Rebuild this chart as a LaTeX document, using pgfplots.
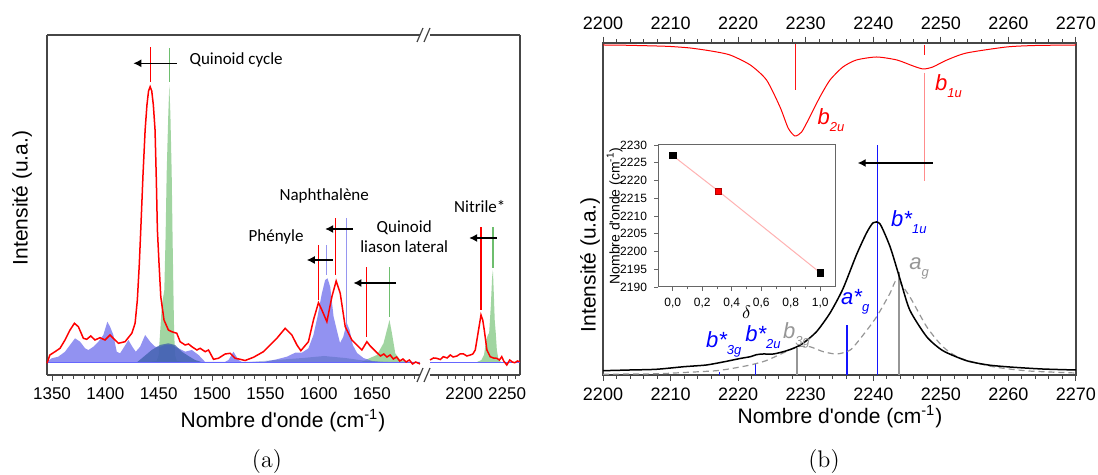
\documentclass[border=0pt]{standalone}
\usepackage{fontspec}
\usepackage{pgfplots}
\pgfplotsset{compat=1.18}
\usetikzlibrary{arrows.meta}
\newfontfamily\arial{Liberation Sans}
\newfontfamily\calibri{Carlito}
\definecolor{fgreen}{RGB}{110,190,110}
\definecolor{lblue}{RGB}{100,100,235}
\definecolor{dblue}{RGB}{60,95,170}
\definecolor{lav}{RGB}{150,150,240}
\definecolor{framec}{RGB}{70,70,70}
\definecolor{gline}{RGB}{150,150,150}
\definecolor{pblue}{RGB}{20,20,255}
\definecolor{pred}{RGB}{255,20,20}
\pgfplotsset{
  base/.style={scale only axis, axis line style={draw=framec, line width=0.6pt},
    tick style={draw=framec, line width=0.5pt}, tick align=outside,
    major tick length=3pt, minor tick length=1.8pt,
    /pgf/number format/assume math mode=true, /pgf/number format/1000 sep={},
    tick label style={font=\arial\fontsize{8.5}{10}\selectfont},
    ytick=\empty},
}
\tikzset{
  ann/.style={font=\calibri\fontsize{8.5}{10}\selectfont, align=center, inner sep=0pt},
  arr/.style={black, line width=0.6pt, -{Latex[length=4pt,width=4pt]}},
  lab/.style={anchor=base west, inner sep=0pt, font=\arial\itshape\fontsize{11}{12}\selectfont},
}
\newcommand{\sub}[1]{\raisebox{-0.6ex}{\fontsize{6.5}{8}\selectfont #1}}
\begin{document}
\begin{tikzpicture}
\path[use as bounding box] (0,0) rectangle (549pt,237.5pt);
% ---------------- panel (a), left part
\begin{axis}[base, at={(23.5pt,50pt)}, anchor=south west, width=186.5pt, height=170pt,
  xmin=1345.3, xmax=1695, ymin=0, ymax=340, axis y line*=left, clip=false,
  xtick={1350,1400,...,1650}, minor xtick={1350,1360,...,1690}, xtick pos=left]
\addplot[draw=none, fill=fgreen, fill opacity=0.65] coordinates {(1440,13) (1448,14) (1450,20) (1451.3,42) (1453,70) (1455.3,85) (1456.5,140) (1457.5,202) (1459,260) (1460,290) (1461,260) (1462.2,202) (1463,140) (1463.8,85) (1464.5,42) (1465.4,20) (1467,14) (1475,13)};
\addplot[draw=none, fill=fgreen, fill opacity=0.65] coordinates {(1640,13) (1646,16) (1654.6,20) (1660.8,31.7) (1664,45) (1666.4,55) (1668.7,41.7) (1671.8,21.7) (1676.5,15) (1685,13)};
\addplot[draw=none, fill=lblue, fill opacity=0.7] coordinates {(1345.3,13) (1349.7,16.7) (1355.9,18.3) (1362.2,23.3) (1366.9,30) (1371.6,36.7) (1376.3,33.3) (1381,26.7) (1384.1,25) (1388.8,28.3) (1393.5,33.3) (1398.1,40) (1401.9,53.3) (1404.4,48.3) (1407.5,40) (1410.7,23.3) (1413.8,21.7) (1417.8,28.3) (1421.6,35) (1425.3,28.3) (1428.5,23.3) (1432.6,28.3) (1437.3,40) (1442,33.3) (1446.6,28.3) (1451,28) (1456,30) (1462,30) (1468.5,26.7) (1474.8,23.3) (1481.1,25) (1487.4,20) (1493.6,13) (1512,13) (1515.5,15) (1520.1,23.3) (1524.8,15) (1528,13) (1548.2,13) (1560.8,15.7) (1570.2,18.3) (1578,22.3) (1584.3,22.3) (1590.4,26.7) (1595.1,40) (1598.9,58.3) (1603,81.7) (1606.1,95) (1608.3,96.7) (1610.8,88.3) (1614,58.3) (1617,45) (1620,32) (1623,38) (1626.4,52) (1629,45) (1632,30) (1636,22) (1642,17) (1650,14) (1660,13) (1695,13)};
\addplot[draw=none, fill=dblue, fill opacity=0.75] coordinates {(1430,13) (1434.2,16.7) (1443.5,25) (1451.3,30) (1459.1,31.7) (1465.4,30) (1471.7,23.3) (1477.9,19) (1484.2,15) (1490,13)};
\addplot[draw=none, fill=dblue, fill opacity=0.35] coordinates {(1535,13) (1560,15) (1585,17) (1605,19) (1625,17) (1645,14) (1665,13)};
\addplot[blue!60, line width=0.5pt] coordinates {(1345.3,12.5) (1695,12.5)};
\addplot[red, line width=0.75pt] coordinates {(1345.3,11.7) (1348,20) (1352.8,23.3) (1357.5,26.7) (1362.2,35) (1366.9,45) (1371,51.7) (1374.7,48.3) (1379.4,36.7) (1382.5,35.7) (1386.3,39) (1390.3,35) (1395,37.3) (1399.7,35) (1404.4,40) (1407.5,36.7) (1412.2,31.7) (1418.5,33.3) (1424.8,41.7) (1427.9,51.7) (1430,75) (1431.8,110) (1433.2,145) (1435.3,200) (1437.3,245) (1439,270) (1440.5,284) (1442,288.3) (1443.5,284) (1445,270) (1446.6,245) (1447.8,195) (1448.8,145) (1450.4,110) (1452,78) (1455,55) (1459.1,45) (1462.3,43.3) (1467,41.7) (1470.1,33.3) (1474.8,30) (1478,31) (1481.1,28.3) (1485.8,25) (1488.9,26.7) (1493.6,23.3) (1496.7,25) (1501.4,15.7) (1506,16.7) (1512.3,21) (1517,21.7) (1521.7,16.7) (1526.4,15.7) (1531,14.5) (1538.9,17.7) (1548.2,23.3) (1554.5,30) (1560.8,36.7) (1568.6,46.7) (1574.9,40) (1579.6,30) (1583.3,24.3) (1590.4,33.3) (1595.1,55) (1599.8,72.3) (1603,65) (1607.7,53.3) (1612.4,78.3) (1616.4,94) (1620.2,81.7) (1624.9,48.3) (1631.1,35) (1635.8,30) (1640.5,25) (1645.2,33.3) (1648.3,29) (1654.6,22.3) (1658,19) (1661,21) (1664,18) (1667,20) (1670,16) (1673,18) (1676,14) (1679,16) (1682,13) (1685,15) (1688,11) (1691,13) (1695,11)};
% markers
\addplot[red, line width=0.6pt] coordinates {(1442,293) (1442,328)};
\addplot[fgreen, line width=0.6pt] coordinates {(1460,293) (1460,327)};
\addplot[red, line width=0.6pt] coordinates {(1599.8,75) (1599.8,130)};
\addplot[lav, line width=0.6pt] coordinates {(1607.7,100) (1607.7,130)};
\addplot[red, line width=0.6pt] coordinates {(1615.5,100) (1615.5,157)};
\addplot[lav, line width=0.6pt] coordinates {(1626.4,50) (1626.4,157)};
\addplot[red, line width=0.6pt] coordinates {(1645.2,38) (1645.2,108)};
\addplot[fgreen, line width=0.6pt] coordinates {(1666.4,58) (1666.4,108)};
% arrows
\addplot[arr] coordinates {(1467,311.7) (1426.3,311.7)};
\addplot[arr] coordinates {(1613.3,115) (1588.9,115)};
\addplot[arr] coordinates {(1632.1,146) (1606.1,146)};
\addplot[arr] coordinates {(1672.7,92) (1632.6,92)};
% annotations
\node[ann] at (axis cs:1522.6,315) {Quinoid cycle};
\node[ann] at (axis cs:1605.2,179) {Naphthalène};
\node[ann] at (axis cs:1560.1,138) {Phényle};
\node[ann] at (axis cs:1680.2,138) {Quinoid\\liason lateral};
\end{axis}
% ---------------- panel (a), right part
\begin{axis}[base, at={(215pt,50pt)}, anchor=south west, width=45pt, height=170pt,
  xmin=2160, xmax=2265, ymin=0, ymax=340, axis y line*=right, clip=false,
  xtick={2200,2250}, minor xtick={2170,2180,...,2260}, xtick pos=left]
\addplot[draw=none, fill=fgreen, fill opacity=0.65] coordinates {(2215,13) (2220,15) (2223,20) (2225.5,35) (2227.5,40) (2229,42) (2231,70) (2232.5,98) (2233.4,105) (2234.5,80) (2235.5,55) (2236.7,42) (2238,25) (2239.9,15) (2243,13)};
\addplot[blue!60, line width=0.5pt] coordinates {(2160,12.5) (2265,12.5)};
\addplot[red, line width=0.75pt] coordinates {(2160,15) (2164,17) (2167.8,16.7) (2172,15.5) (2175.6,18.3) (2180,17) (2183.7,20) (2187,18) (2191.5,19) (2195,21) (2199.2,21) (2203,19) (2207,20) (2210,21) (2212.8,25) (2216,41.7) (2219.5,60) (2221.5,55) (2223.3,45) (2226.4,25) (2230.2,18.3) (2234,17) (2237.9,16.7) (2241,15) (2243.7,18.3) (2246,14) (2249.6,10) (2253,15) (2256,13) (2258.9,12.3) (2262,14) (2265,13.3)};
\addplot[red, line width=0.6pt] coordinates {(2219.5,65) (2219.5,148)};
\addplot[fgreen, line width=0.6pt] coordinates {(2233.4,107) (2233.4,148)};
\addplot[arr] coordinates {(2237.6,137) (2205.7,137)};
\node[ann] at (axis cs:2218.1,168) {Nitrile*};
\end{axis}
% axis break marks
\draw[framec, line width=0.6pt] (208.5pt,46.5pt) -- (211.5pt,53.5pt) (212pt,46.5pt) -- (215pt,53.5pt);
\draw[framec, line width=0.6pt] (208.5pt,216.5pt) -- (211.5pt,223.5pt) (212pt,216.5pt) -- (215pt,223.5pt);
\node[rotate=90, font=\arial\fontsize{10.5}{12}\selectfont] at (11pt,138.5pt) {Intensité (u.a.)};
\node[font=\arial\fontsize{10.5}{12}\selectfont] at (141.5pt,27pt) {Nombre d{\char"27}onde (cm\textsuperscript{-1})};
\node[font=\fontsize{12}{14}\selectfont] at (133.5pt,6.5pt) {(a)};
% ---------------- panel (b)
\begin{axis}[base, at={(301.5pt,50pt)}, anchor=south west, width=236.5pt, height=166pt,
  xmin=2200, xmax=2270, ymin=0, ymax=332, xtick={2200,2210,...,2270}, minor x tick num=4,
  tick label style={font=\arial\fontsize{9}{10}\selectfont}]
% vertical markers first
\addplot[draw=pred, line width=0.65pt] coordinates {(2228.5,332) (2228.5,285)};
\addplot[draw=pred, line width=0.65pt] coordinates {(2247.6,330) (2247.6,320)};
\addplot[draw=red!45, line width=0.65pt] coordinates {(2247.6,302) (2247.6,194)};
\addplot[draw=pblue, line width=0.65pt] coordinates {(2240.6,0) (2240.6,230)};
\addplot[draw=pblue, line width=0.65pt] coordinates {(2236.1,0) (2236.1,50)};
\addplot[draw=pblue, line width=0.65pt] coordinates {(2222.6,0) (2222.6,12)};
\addplot[draw=pblue, line width=0.65pt] coordinates {(2217.2,0) (2217.2,3)};
\addplot[draw=gline, line width=0.65pt] coordinates {(2228.7,0) (2228.7,27)};
\addplot[draw=gline, line width=0.65pt] coordinates {(2243.8,0) (2243.8,103)};
\addplot[arr] coordinates {(2248.8,212) (2237.7,212)};
\addplot[red, line width=0.5pt, smooth, tension=0.4] coordinates {(2200,330) (2203,329.8) (2207.9,329) (2210,328.5) (2212.9,327) (2216,324) (2218.8,320) (2221.8,310) (2224.2,295) (2226.2,268) (2227.4,247) (2228.4,239) (2229.4,243) (2230.6,258) (2232.1,278) (2233.6,295) (2235.5,308) (2237.5,315) (2240.5,318) (2243.5,315) (2245.9,309) (2247.4,306) (2248.8,308) (2250.9,315) (2253.8,322) (2259.7,328) (2264,329.5) (2270,330)};
\addplot[gline, line width=0.6pt, dashed, dash pattern=on 3pt off 2pt, smooth, tension=0.4] coordinates {(2200,0.8) (2207.9,1.2) (2212,2.5) (2216.8,4.3) (2219.5,7) (2221.8,10) (2224,14) (2225.7,19) (2227.3,24) (2228.7,28.3) (2230.6,28.3) (2232.6,23.3) (2234.6,21) (2236.6,25) (2238.5,40) (2240.5,58.3) (2242.5,82) (2243.5,95) (2245.4,78.3) (2247.9,48.3) (2250.3,28.3) (2252.8,17) (2257.7,8.3) (2263,4) (2270,2)};
\addplot[black, line width=0.75pt, smooth, tension=0.4] coordinates {(2200,4.3) (2204,5) (2207.9,5.7) (2212,8.3) (2215.3,10) (2218,13.3) (2220.3,16.5) (2221.8,18.3) (2222.7,20.3) (2223.7,21) (2225.2,21) (2226.7,23.3) (2228.2,26.7) (2229.6,31.7) (2231.6,43.3) (2233.6,62) (2235.5,86) (2237.5,120) (2239,142) (2240,152.3) (2241,151) (2242.5,128) (2244,95) (2245.4,65) (2247.9,38.3) (2250.3,24.3) (2253.8,14.3) (2257,10) (2260.2,8) (2265,6) (2270,5)};
\node[lab, text=blue] at (axis cs:2242.6,148) {b*\sub{1u}};
\node[lab, text=gline] at (axis cs:2245.3,105) {a\sub{g}};
\node[lab, text=blue] at (axis cs:2235.2,70) {a*\sub{g}};
\node[lab, text=blue] at (axis cs:2221,33) {b*\sub{2u}};
\node[lab, text=gline] at (axis cs:2226.6,36) {b\sub{3g}};
\node[lab, text=blue] at (axis cs:2215.2,27) {b*\sub{3g}};
\node[lab, text=red] at (axis cs:2231.7,250) {b\sub{2u}};
\node[lab, text=red] at (axis cs:2249.1,284) {b\sub{1u}};
\end{axis}
\begin{axis}[base, at={(301.5pt,50pt)}, anchor=south west, width=236.5pt, height=166pt,
  xmin=2200, xmax=2270, ymin=0, ymax=332, axis x line*=top, hide y axis,
  xtick={2200,2210,...,2270}, minor x tick num=4,
  tick label style={font=\arial\fontsize{9}{10}\selectfont}]
\addplot[draw=none] coordinates {(2200,0) (2270,0)};
\end{axis}
% inset
\begin{axis}[at={(329pt,94pt)}, anchor=south west, scale only axis, width=88.5pt, height=71pt,
  xmin=-0.1, xmax=1.1, ymin=2190, ymax=2230,
  xtick={0,0.2,0.4,0.6,0.8,1.0}, minor x tick num=1, ytick={2190,2195,...,2230},
  xtick pos=left, ytick pos=left, tick align=outside,
  axis line style={draw=black!60, line width=0.5pt}, tick style={draw=black!60, line width=0.4pt},
  major tick length=2pt, minor tick length=1.2pt,
  /pgf/number format/assume math mode=true, /pgf/number format/1000 sep={},
  tick label style={font=\arial\fontsize{6}{7}\selectfont},
  xticklabel style={/pgf/number format/.cd, use comma, fixed, fixed zerofill, precision=1},
  axis background/.style={fill=white},
  ylabel={Nombre d{\char"27}onde (cm\textsuperscript{-1})},
  ylabel style={font=\arial\fontsize{7}{8}\selectfont, yshift=-8pt},
  xlabel={$\delta$}, xlabel style={font=\fontsize{9}{10}\selectfont, yshift=8pt}]
\addplot[red!30, line width=0.5pt] coordinates {(0,2227) (0.31,2217) (1.0,2194)};
\addplot[only marks, mark=square*, mark size=1.6pt, black] coordinates {(0,2227) (1.0,2194)};
\addplot[only marks, mark=square*, mark size=1.6pt, red, mark options={draw=red!70!black}] coordinates {(0.31,2217)};
\end{axis}
\node[rotate=90, font=\arial\fontsize{10.5}{12}\selectfont] at (295pt,105pt) {Intensité (u.a.)};
\node[font=\arial\fontsize{10.5}{12}\selectfont] at (420pt,29pt) {Nombre d{\char"27}onde (cm\textsuperscript{-1})};
\node[font=\fontsize{12}{14}\selectfont] at (412pt,6.5pt) {(b)};
\end{tikzpicture}
\end{document}
